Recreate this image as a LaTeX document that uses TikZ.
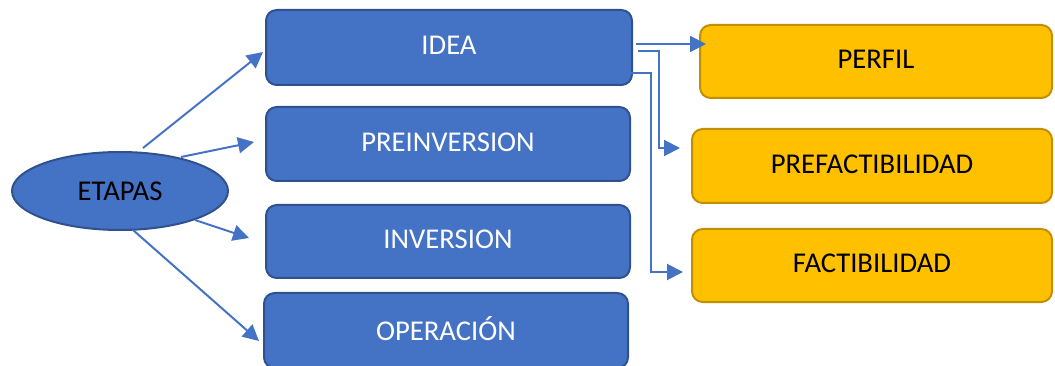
\documentclass[tikz,border=0pt]{standalone}
\usepackage{fontspec}
\setmainfont{Carlito}
\usetikzlibrary{arrows.meta,shapes.geometric}
\definecolor{bluefill}{HTML}{4472C4}
\definecolor{blueline}{HTML}{2F528F}
\definecolor{goldfill}{HTML}{FFC000}
\definecolor{goldline}{HTML}{BF9000}
\definecolor{arrowblue}{HTML}{4472C4}
\begin{document}
\begin{tikzpicture}[x=0.75pt,y=-0.75pt,
  boxbase/.style={line width=1.5pt,rounded corners=8pt,inner sep=0pt,text depth=3pt,font=\fontsize{21.5}{24}\selectfont},
  bluebox/.style={boxbase,draw=blueline,fill=bluefill,text=white,minimum width=273pt,minimum height=55.5pt},
  goldbox/.style={boxbase,draw=goldline,fill=goldfill,text=black,minimum width=270pt,minimum height=55.5pt},
  conn/.style={draw=arrowblue,line width=1.5pt,-{Triangle[length=12pt,width=12pt]}}]
\useasboundingbox (0,0) rectangle (1055,366);
% blue boxes
\node[bluebox,minimum width=274.5pt,minimum height=56.25pt] (idea) at (449,47.5) {IDEA};
\node[bluebox] (pre) at (448,144) {PREINVERSION};
\node[bluebox,minimum height=54.75pt] (inv) at (448,241.5) {INVERSION};
\node[bluebox,minimum height=56.25pt] (ope) at (446,330.5) {OPERACIÓN};
% ellipse
\node[ellipse,draw=blueline,fill=bluefill,line width=1.5pt,inner sep=0pt,
  minimum width=162pt,minimum height=58.5pt,text=black,
  font=\fontsize{21.5}{24}\selectfont] (etapas) at (120,191) {\raisebox{-2pt}{ETAPAS}};
% gold boxes
\node[goldbox,minimum width=264pt,minimum height=54.75pt] (perfil) at (876,61.5) {PERFIL};
\node[goldbox] (prefac) at (872,166) {PREFACTIBILIDAD};
\node[goldbox,minimum height=54.75pt] (fac) at (872,265.5) {FACTIBILIDAD};
% connectors from ETAPAS
\coordinate (e1) at (143,148);
\coordinate (t1) at (263,52);
\coordinate (e2) at (181,157);
\coordinate (t2) at (254,142);
\coordinate (e3) at (195,220);
\coordinate (t3) at (249,238);
\coordinate (e4) at (133,230);
\coordinate (t4) at (259,341);
\draw[conn] (e1) -- (t1);
\draw[conn] (e2) -- (t2);
\draw[conn] (e3) -- (t3);
\draw[conn] (e4) -- (t4);
% right connectors
\coordinate (s1) at (636,44);
\coordinate (p1) at (706,44);
\coordinate (s2) at (638,51);
\coordinate (p2) at (680,148);
\coordinate (s3) at (630,73);
\coordinate (p3) at (683,272);
\draw[conn] (s1) -- (p1);
\draw[conn] (s2) -- (659,51) -- (659,148) -- (p2);
\draw[conn] (s3) -- (651,73) -- (651,272) -- (p3);
\end{tikzpicture}
\end{document}
